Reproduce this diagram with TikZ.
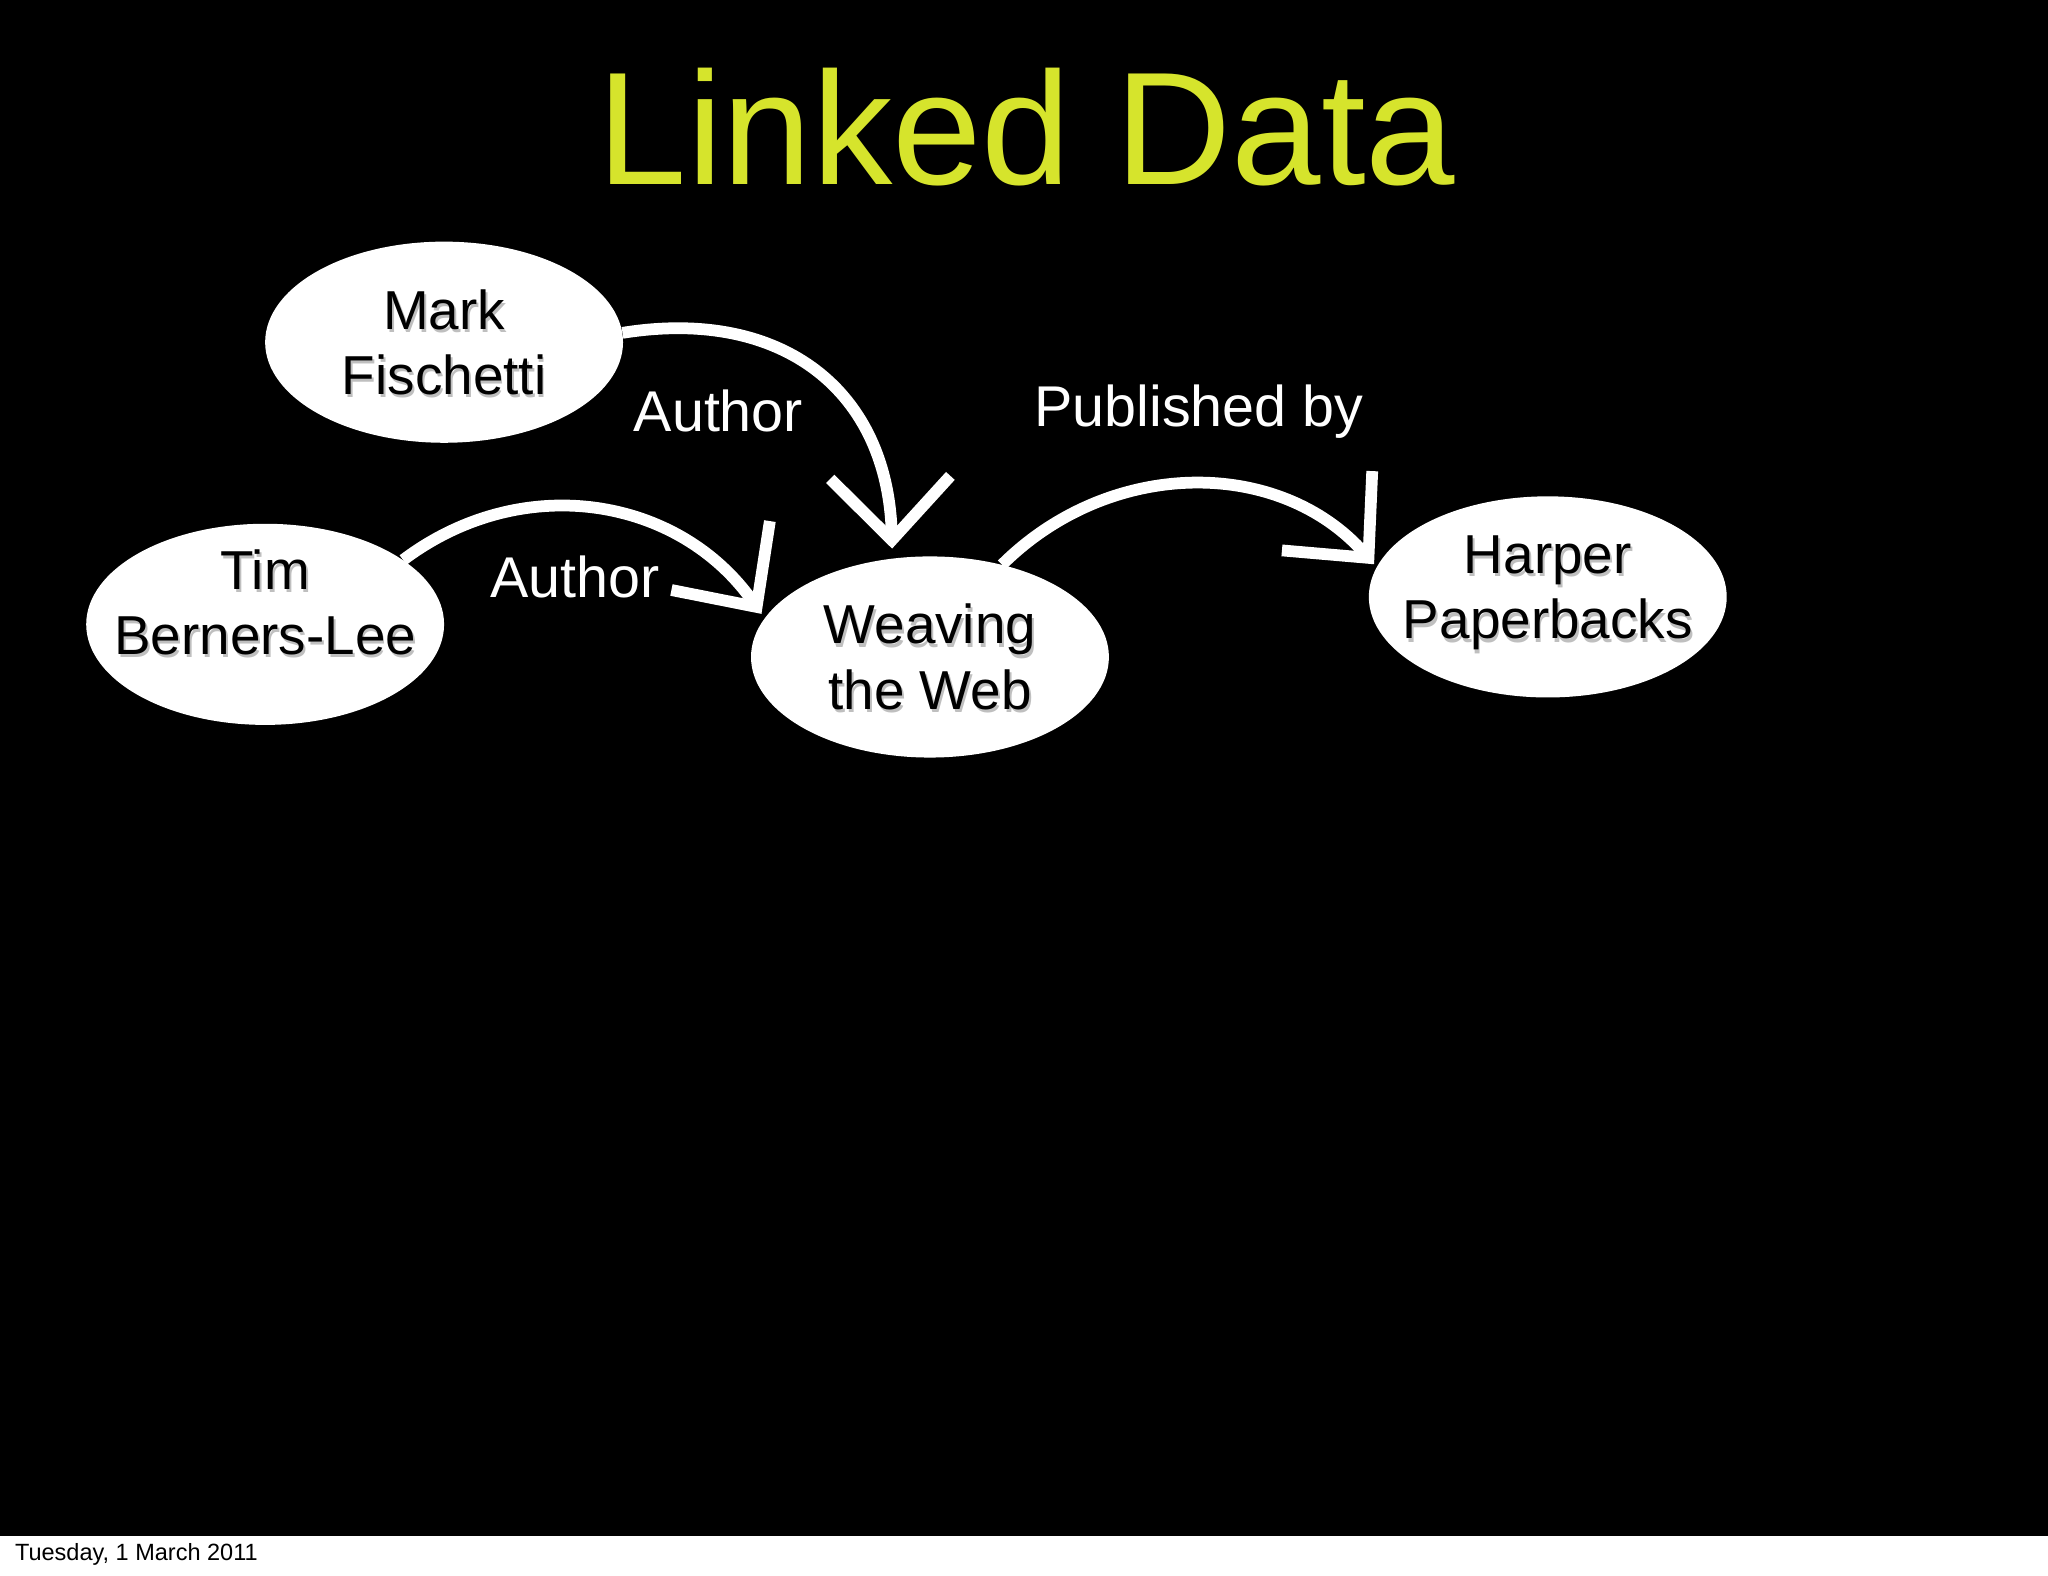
\documentclass[tikz,border=0pt]{standalone}
\usepackage{fontspec}
\setmainfont{Liberation Sans}
\usetikzlibrary{arrows.meta,shapes.geometric}
\definecolor{titlecol}{RGB}{214,228,44}
\tikzset{
  ent/.style={ellipse,fill=white,minimum width=274pt,minimum height=154pt,inner sep=0pt},
  enttext/.style={align=center,font=\fontsize{42}{50}\selectfont,text=black},
  shadowtext/.style={align=center,font=\fontsize{42}{50}\selectfont,text=black!25},
  rel/.style={white,line width=9pt,-{Straight Barb[length=48pt,width=92pt,line width=9pt]}},
  lab/.style={white,font=\fontsize{44}{50}\selectfont}
}
\begin{document}
\begin{tikzpicture}[x=1pt,y=-1pt]
\useasboundingbox (0,0) rectangle (1568,1206);
\fill[white] (0,0) rectangle (1568,1206);
\fill[black] (0,0) rectangle (1568,1176);
\node[text=titlecol,font=\fontsize{123}{123}\selectfont] (title) at (786,97) {Linked Data};
\foreach \n/\x/\y/\dy/\t in {mark/340/262/0/{Mark\\Fischetti},tim/203/478/-17/{Tim\\Berners-Lee},web/712/503/0/{Weaving\\the Web},harper/1185/457/-3/{Harper\\Paperbacks}}{
  \node[ent] (\n) at (\x,\y) {};
  \node[shadowtext] at (\x+1.5,\y+\dy+2.5) {\t};
  \node[enttext] (\n-t) at (\x,\y+\dy) {\t};
}
\coordinate (webtopA) at (683,420);
\coordinate (webtopB) at (583,470);
\coordinate (harperin) at (1052,432);
\draw[rel] (mark.3) .. controls (600,235) and (680,300) .. (webtopA);
\draw[rel] (tim.25) .. controls (400,360) and (520,380) .. (webtopB);
\draw[rel] (web.52) .. controls (850,350) and (980,350) .. (harperin);
\node[lab] (a1) at (550,315) {Author};
\node[lab] (a2) at (440,442) {Author};
\node[lab] (pb) at (918,315) {Published by};
\node[anchor=west,font=\fontsize{18}{20}\selectfont,text=black] (foot) at (8,1190) {Tuesday, 1 March 2011};
\end{tikzpicture}
\end{document}
